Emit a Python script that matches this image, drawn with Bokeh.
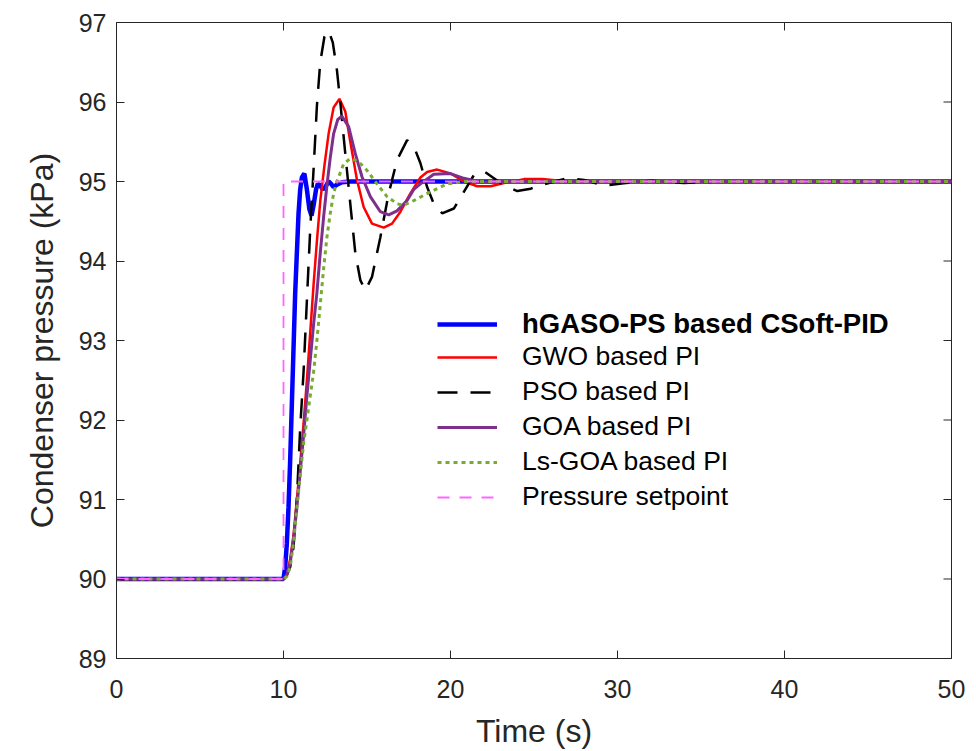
import math
from bokeh.plotting import figure
from bokeh.models import Legend, LegendItem, FixedTicker, Range1d
from bokeh.embed import file_html
from bokeh.resources import INLINE

# ---------------- data ----------------
x_ticks = [0, 10, 20, 30, 40, 50]
y_ticks = [89, 90, 91, 92, 93, 94, 95, 96, 97]

hgaso_t = [0, 10.0, 10.1, 10.2, 10.3, 10.4, 10.5, 10.6, 10.7, 10.8, 10.9, 11.0, 11.1, 11.25,
           11.4, 11.55, 11.68, 11.8, 11.95, 12.05, 12.2, 12.35, 12.5, 12.7, 12.85, 13.0,
           13.2, 13.5, 14.0, 50]
hgaso_p = [90, 90, 90.15, 90.45, 90.9, 91.5, 92.2, 92.9, 93.6, 94.1, 94.6, 94.9, 95.05, 95.1,
           94.9, 94.65, 94.57, 94.7, 94.9, 94.97, 94.95, 94.9, 94.93, 95.0, 94.97, 94.93,
           94.96, 94.99, 95.0, 95.0]

gwo_t = [0, 10.0, 10.2, 10.4, 10.6, 10.8, 11.0, 11.2, 11.4, 11.6, 11.8, 12.0, 12.2, 12.45,
         12.7, 13.0, 13.35, 13.7, 14.0, 14.4, 14.8, 15.3, 16.0, 16.5, 17.0, 17.6, 18.2,
         18.6, 19.2, 20.0, 20.8, 21.6, 22.4, 23.4, 24.4, 25.5, 27.0, 50]
gwo_p = [90, 90, 90.05, 90.25, 90.55, 91.0, 91.45, 91.95, 92.5, 93.1, 93.7, 94.25, 94.75, 95.2,
         95.6, 95.93, 96.04, 95.88, 95.5, 95.02, 94.68, 94.47, 94.42, 94.47, 94.62, 94.85, 95.05,
         95.12, 95.15, 95.1, 95.0, 94.94, 94.94, 94.99, 95.03, 95.03, 95.0, 95.0]

pso_t = [0, 10.0, 10.2, 10.4, 10.6, 10.8, 11.0, 11.2, 11.4, 11.6, 11.8, 12.0, 12.2, 12.45,
         12.7, 12.95, 13.2, 13.4, 13.7, 14.0, 14.3, 14.6, 14.9, 15.3, 15.8, 16.3, 16.8,
         17.4, 17.9, 18.2, 18.6, 19.0, 19.5, 20.2, 20.8, 21.4, 22.0, 22.6, 23.2, 24.0,
         24.8, 25.5, 27.0, 28.0, 29.2, 30.5, 32.0, 34.0, 36.0, 50]
pso_p = [90, 90, 90.05, 90.15, 90.4, 91.0, 91.9, 92.6, 93.5, 94.4, 95.15, 95.95, 96.5, 96.82,
         96.9, 96.75, 96.4, 96.0, 95.35, 94.72, 94.1, 93.76, 93.63, 93.8, 94.3, 94.85, 95.27,
         95.52, 95.39, 95.23, 94.93, 94.72, 94.6, 94.66, 94.87, 95.08, 95.13, 95.04, 94.95, 94.88,
         94.91, 94.96, 95.04, 95.02, 94.95, 94.98, 95.01, 94.98, 95.0, 95.0]

goa_t = [0, 10.0, 10.2, 10.4, 10.6, 10.8, 11.0, 11.2, 11.4, 11.6, 11.8, 12.0, 12.2, 12.4,
         12.6, 12.8, 13.0, 13.25, 13.5, 13.9, 14.3, 14.7, 15.2, 15.8, 16.3, 16.8, 17.4,
         17.8, 18.2, 19.0, 20.0, 20.8, 21.8, 23.0, 50]
goa_p = [90, 90, 90.05, 90.2, 90.5, 90.9, 91.35, 91.8, 92.3, 92.75, 93.2, 93.6, 94.1, 94.55,
         94.95, 95.3, 95.6, 95.78, 95.82, 95.69, 95.35, 95.06, 94.81, 94.62, 94.58, 94.63, 94.76,
         94.9, 94.97, 95.09, 95.1, 95.04, 94.99, 95.0, 95.0]

lsgoa_t = [0, 10.0, 10.2, 10.4, 10.6, 10.8, 11.0, 11.2, 11.4, 11.6, 11.8, 12.0, 12.2, 12.4,
           12.6, 12.8, 13.0, 13.2, 13.6, 14.0, 14.5, 15.0, 15.6, 16.2, 16.8, 17.2, 17.8,
           18.8, 19.8, 20.8, 50]
lsgoa_p = [90, 90, 90.03, 90.15, 90.45, 90.9, 91.3, 91.7, 92.0, 92.3, 92.6, 93.0, 93.45, 93.9,
           94.3, 94.6, 94.85, 95.0, 95.22, 95.29, 95.25, 95.14, 94.97, 94.81, 94.72, 94.7, 94.76,
           94.87, 94.97, 95.0, 95.0]

setpoint_t = [0, 10, 10, 50]
setpoint_p = [90, 90, 95, 95]

labels = ["hGASO-PS based CSoft-PID", "GWO based PI", "PSO based PI",
          "GOA based PI", "Ls-GOA based PI", "Pressure setpoint"]

# ---------------- figure ----------------
FONT = "Liberation Sans"
TXT = "#262626"
X0, X1 = 0, 50
Y0, Y1 = 89, 97

p = figure(width=968, height=751, output_backend="svg", toolbar_location=None,
           x_range=Range1d(X0, X1), y_range=Range1d(Y0, Y1),
           min_border_left=116, min_border_right=17, min_border_top=22, min_border_bottom=92)
p.grid.visible = False
p.outline_line_color = TXT
p.outline_line_width = 1
p.background_fill_color = "white"

for ax in [p.xaxis[0], p.yaxis[0]]:
    ax.major_label_text_font = FONT
    ax.major_label_text_font_size = "25px"
    ax.major_label_text_color = TXT
    ax.axis_label_text_font = FONT
    ax.axis_label_text_font_size = "32px"
    ax.axis_label_text_font_style = "normal"
    ax.axis_label_text_color = TXT
    ax.axis_line_color = TXT
    ax.major_tick_line_color = TXT
    ax.major_tick_in = 8
    ax.major_tick_out = 0
    ax.minor_tick_line_color = None

p.xaxis.ticker = FixedTicker(ticks=x_ticks)
p.yaxis.ticker = FixedTicker(ticks=y_ticks)
p.xaxis.axis_label = "Time (s)"
p.yaxis.axis_label = "Condenser pressure (kPa)"
p.xaxis.major_label_standoff = 21
p.yaxis.major_label_standoff = 10
p.xaxis.axis_label_standoff = 12
p.xaxis.axis_label_text_line_height = 0.8
p.yaxis.axis_label_standoff = 16

# inward ticks on the top and right edges of the box
p.ray(x=x_ticks, y=[Y1] * len(x_ticks), length=8, length_units="screen",
      angle=-math.pi / 2, line_color=TXT, line_width=1)
p.ray(x=[X1] * len(y_ticks), y=y_ticks, length=8, length_units="screen",
      angle=math.pi, line_color=TXT, line_width=1)

r_blue = p.line(hgaso_t, hgaso_p, line_color="#0000FF", line_width=4.5)
r_red = p.line(gwo_t, gwo_p, line_color="#FF0000", line_width=2.5)
r_black = p.line(pso_t, pso_p, line_color="#000000", line_width=2.5, line_dash="20 13")
r_purple = p.line(goa_t, goa_p, line_color="#7E2F8E", line_width=3)
r_green = p.line(lsgoa_t, lsgoa_p, line_color="#77AC30", line_width=3, line_dash="4 4")
r_mag = p.line(setpoint_t, setpoint_p, line_color="#FF66FF", line_width=1.8, line_dash="12 10")

common = dict(border_line_color=None, background_fill_alpha=0, padding=0, margin=0,
              glyph_width=60, glyph_height=30, label_height=30, spacing=4,
              label_standoff=25, label_text_font=FONT, label_text_color="#000000")

leg1 = Legend(items=[LegendItem(label=labels[0], renderers=[r_blue])],
              location=(321, 318), label_text_font_style="bold",
              label_text_font_size="27.5px", **common)
leg2 = Legend(items=[LegendItem(label=labels[1], renderers=[r_red]),
                     LegendItem(label=labels[2], renderers=[r_black]),
                     LegendItem(label=labels[3], renderers=[r_purple]),
                     LegendItem(label=labels[4], renderers=[r_green]),
                     LegendItem(label=labels[5], renderers=[r_mag])],
              location=(321, 146), label_text_font_size="26.5px", **common)
p.add_layout(leg1, "center")
p.add_layout(leg2, "center")

open("out.html", "w").write(file_html(p, INLINE))
